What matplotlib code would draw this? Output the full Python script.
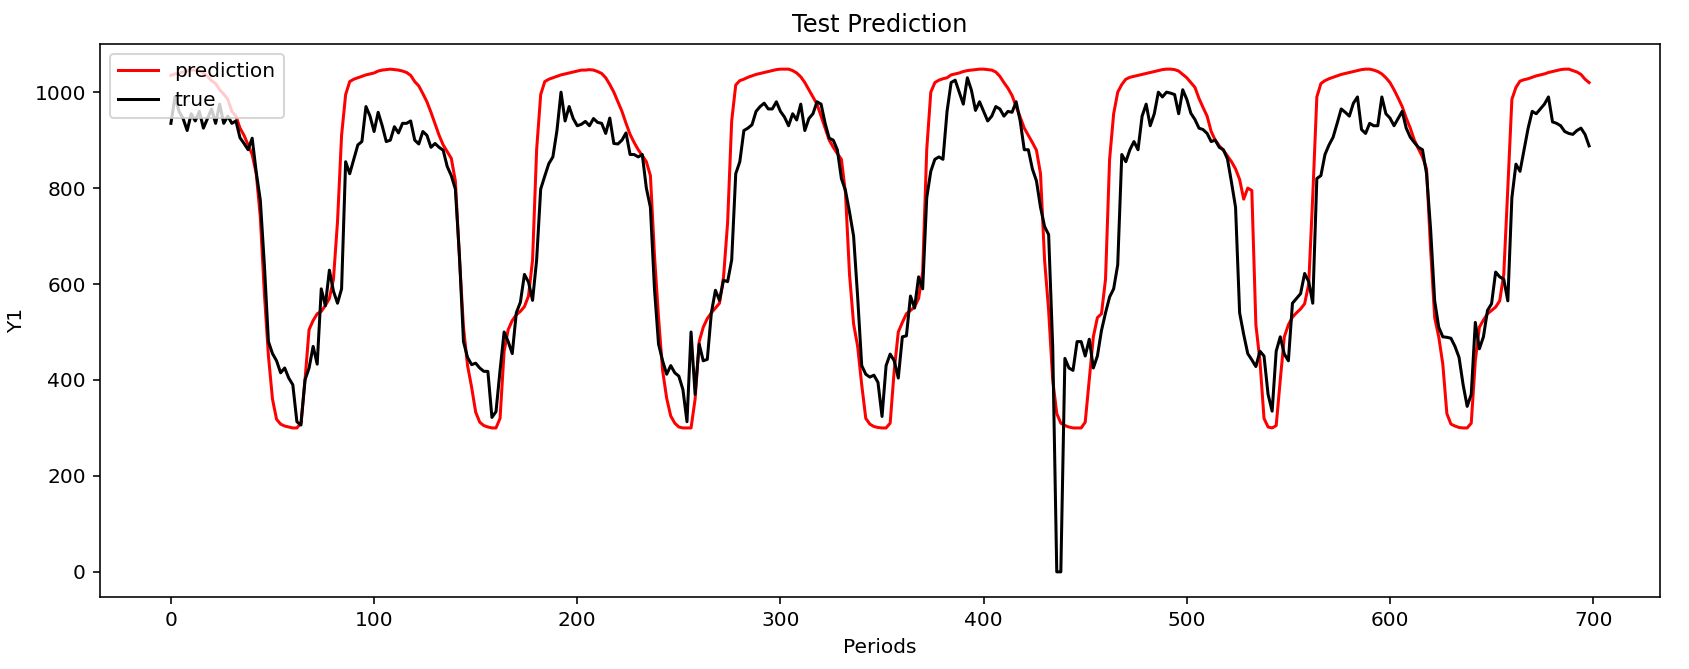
import numpy as np
import matplotlib
matplotlib.use("Agg")
import matplotlib.pyplot as plt

# sampled every 2 periods
period_step = 2

true_values = [
    935, 990, 960, 945, 920, 955, 940, 960, 925, 945,
    965, 935, 975, 935, 950, 935, 940, 905, 893, 880,
    904, 833, 775, 640, 480, 455, 440, 415, 425, 404,
    390, 313, 306, 400, 425, 470, 433, 590, 555, 629,
    585, 560, 590, 855, 830, 860, 890, 897, 970, 950,
    918, 958, 930, 897, 900, 928, 915, 935, 935, 940,
    900, 892, 918, 910, 885, 893, 885, 879, 845, 826,
    798, 660, 480, 447, 432, 435, 425, 418, 418, 322,
    334, 420, 500, 480, 455, 540, 562, 620, 604, 566,
    650, 798, 825, 851, 865, 920, 1000, 940, 970, 945,
    930, 933, 939, 930, 945, 937, 935, 914, 946, 893,
    892, 900, 915, 870, 870, 865, 870, 800, 760, 590,
    475, 440, 412, 430, 415, 408, 380, 313, 500, 370,
    475, 440, 443, 540, 587, 566, 608, 605, 650, 830,
    855, 920, 925, 932, 960, 970, 977, 965, 965, 980,
    960, 948, 930, 955, 942, 975, 920, 945, 955, 980,
    975, 935, 904, 900, 880, 820, 795, 750, 700, 573,
    430, 412, 406, 410, 395, 324, 430, 454, 440, 404,
    490, 492, 575, 550, 615, 590, 780, 835, 860, 865,
    860, 960, 1020, 1025, 1000, 975, 1030, 1004, 962, 980,
    960, 940, 950, 970, 965, 950, 960, 958, 980, 940,
    880, 880, 840, 815, 760, 720, 703, 470, 0, 0,
    445, 425, 420, 480, 480, 450, 485, 425, 450, 503,
    540, 573, 590, 640, 870, 855, 880, 897, 880, 950,
    975, 930, 955, 1000, 990, 1000, 998, 995, 955, 1005,
    985, 956, 943, 925, 922, 914, 897, 900, 885, 880,
    861, 812, 760, 540, 495, 455, 442, 428, 460, 450,
    370, 335, 460, 490, 454, 440, 560, 570, 580, 622,
    605, 560, 820, 826, 870, 890, 906, 935, 965, 958,
    950, 977, 990, 922, 914, 935, 930, 930, 990, 955,
    946, 930, 945, 960, 925, 906, 895, 885, 880, 830,
    714, 565, 510, 490, 489, 487, 470, 447, 390, 345,
    370, 520, 465, 490, 545, 559, 625, 615, 610, 565,
    780, 850, 835, 880, 925, 960, 955, 965, 975, 990,
    938, 935, 930, 918, 914, 912, 920, 925, 912, 888,
]

prediction_values = [
    1035, 1038, 1040, 1042, 1044, 1046, 1046, 1044, 1040, 1033,
    1024, 1018, 1005, 996, 985, 960, 950, 925, 910, 890,
    870, 830, 740, 580, 450, 360, 318, 308, 304, 302,
    300, 300, 310, 400, 505, 524, 538, 543, 555, 570,
    610, 730, 910, 995, 1022, 1027, 1030, 1033, 1036, 1038,
    1040, 1044, 1046, 1047, 1048, 1047, 1046, 1044, 1041, 1035,
    1022, 1013, 997, 980, 958, 934, 910, 890, 876, 862,
    815, 655, 510, 430, 385, 333, 312, 305, 302, 300,
    300, 320, 460, 505, 524, 536, 543, 553, 575, 650,
    880, 995, 1022, 1027, 1030, 1033, 1036, 1038, 1040, 1042,
    1044, 1046, 1046, 1047, 1046, 1043, 1039, 1030, 1016, 1000,
    980, 960, 935, 912, 895, 880, 868, 855, 826, 660,
    530, 420, 362, 325, 310, 302, 300, 300, 300, 360,
    480, 510, 528, 540, 550, 560, 615, 728, 940, 1015,
    1024, 1027, 1031, 1034, 1037, 1039, 1041, 1043, 1045, 1047,
    1048, 1048, 1048, 1045, 1040, 1032, 1020, 1005, 990, 975,
    950, 925, 900, 885, 872, 860, 790, 620, 517, 470,
    390, 320, 308, 303, 301, 300, 300, 310, 420, 500,
    520, 538, 545, 552, 570, 625, 880, 1000, 1020, 1025,
    1028, 1030, 1036, 1038, 1040, 1043, 1045, 1046, 1047, 1048,
    1048, 1047, 1046, 1042, 1033, 1020, 1008, 993, 970, 948,
    925, 910, 895, 879, 830, 650, 545, 400, 330, 310,
    305, 302, 300, 300, 300, 312, 400, 490, 530, 538,
    610, 860, 955, 1000, 1016, 1027, 1031, 1033, 1035, 1037,
    1039, 1041, 1043, 1045, 1047, 1048, 1048, 1047, 1044, 1037,
    1030, 1020, 1010, 987, 968, 950, 918, 900, 888, 879,
    867, 855, 840, 818, 777, 800, 795, 515, 440, 320,
    302, 300, 305, 400, 490, 515, 531, 540, 548, 559,
    600, 784, 990, 1018, 1024, 1028, 1031, 1034, 1037, 1039,
    1041, 1043, 1045, 1047, 1048, 1048, 1046, 1043, 1038, 1030,
    1020, 1005, 988, 970, 946, 925, 900, 882, 865, 840,
    672, 530, 490, 433, 330, 308, 304, 301, 300, 300,
    310, 440, 510, 525, 538, 545, 552, 565, 620, 800,
    985, 1010, 1023, 1026, 1028, 1031, 1034, 1036, 1038, 1041,
    1043, 1045, 1047, 1048, 1048, 1045, 1042, 1037, 1027, 1020,
]

periods = np.arange(len(true_values)) * period_step

DPI = 145
fig = plt.figure(figsize=(1689 / DPI, 669 / DPI), dpi=DPI)
ax = fig.add_axes([100 / 1689, 1 - 597 / 669, 1560 / 1689, 553 / 669])

ax.plot(periods, prediction_values, color="red", label="prediction")
ax.plot(periods, true_values, color="black", label="true")
ax.set_title("Test Prediction")
ax.set_xlabel("Periods")
ax.set_ylabel("Y1")
ax.legend(loc="upper left")

fig.savefig("out.png", dpi=DPI)
